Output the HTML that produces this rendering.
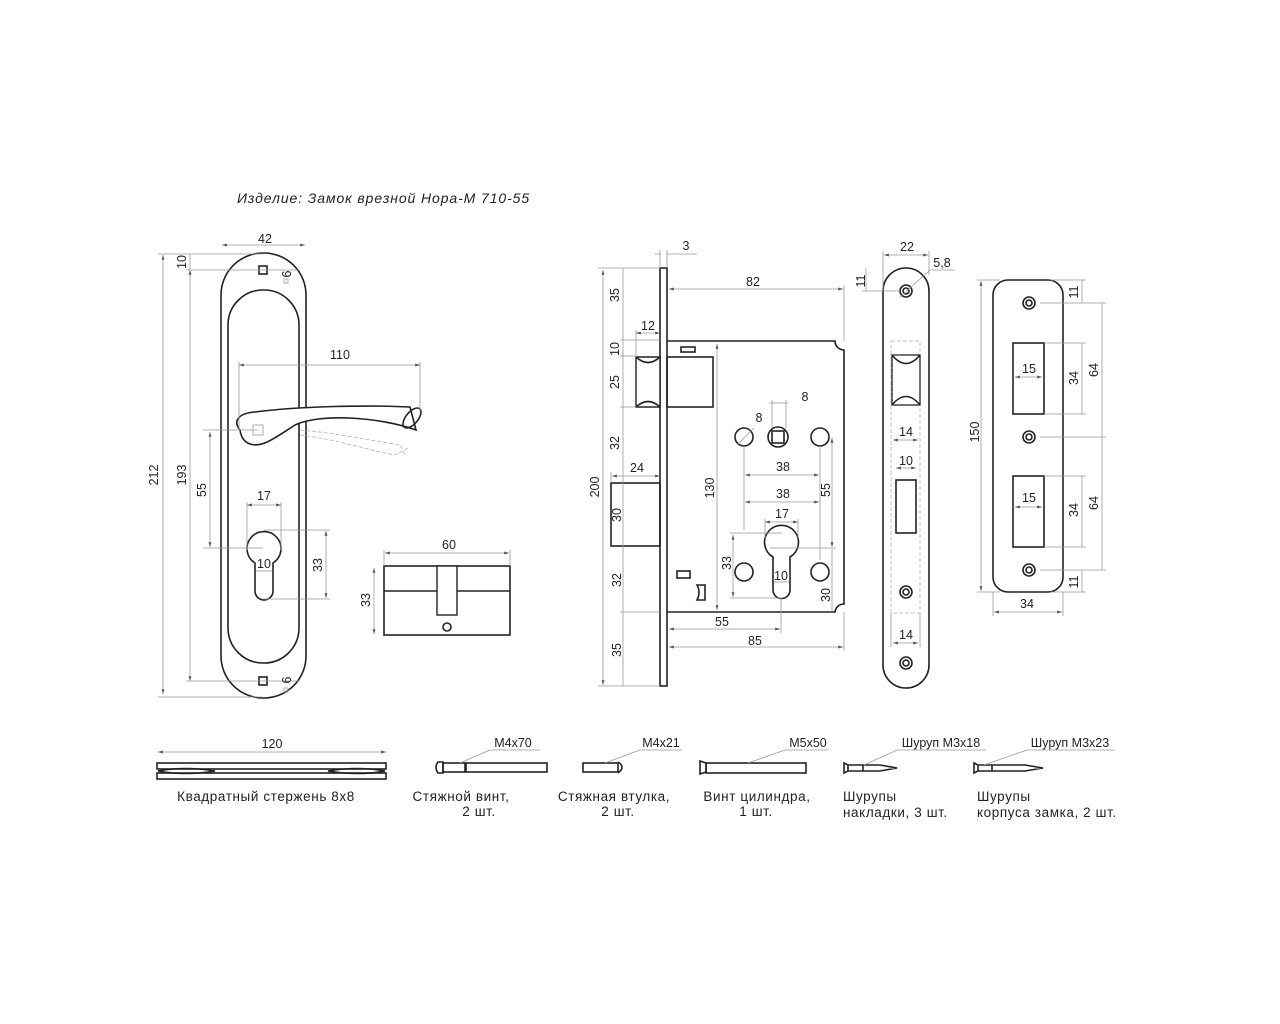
<!DOCTYPE html>
<html><head><meta charset="utf-8"><style>
html,body{margin:0;padding:0;background:#fff}
svg{display:block}
text{font-family:"Liberation Sans","DejaVu Sans",sans-serif;font-size:12.5px;fill:#222}
.t{font-size:13.5px;letter-spacing:0.6px}
.o{fill:none;stroke:#222;stroke-width:1.6}
.d{fill:none;stroke:#999;stroke-width:0.8}
.c{fill:none;stroke:#aaa;stroke-width:0.7;stroke-dasharray:4 2}
</style></head><body>
<svg width="1280" height="1024" viewBox="0 0 1280 1024" xmlns="http://www.w3.org/2000/svg">
<defs>
<marker id="a" viewBox="0 0 10 10" refX="10" refY="5" markerWidth="6" markerHeight="6" orient="auto-start-reverse"><path d="M0,2 L10,5 L0,8z" fill="#555"/></marker>
</defs>
<text x="237" y="203" class="t" font-style="italic" style="font-size:14px;letter-spacing:0.9px">Изделие: Замок врезной Нора-М 710-55</text>

<!-- HANDLE PLATE -->
<rect x="221" y="253" width="85" height="445" rx="42" class="o"/>
<rect x="228" y="290" width="71" height="373" rx="35" class="o"/>
<rect x="259" y="266" width="8" height="8" class="o" stroke-width="1.2"/>
<rect x="259" y="677" width="8" height="8" class="o" stroke-width="1.2"/>
<rect x="284" y="279" width="4" height="4" class="d"/>
<rect x="284" y="688" width="4" height="4" class="d"/>
<path d="M240,430 C232,420 240,413 255,412 C300,406 370,405 410,407 L416,430 C380,417 320,413 295,425 C275,438 262,448 250,444 C244,442 241,437 240,430 Z" fill="#fff" stroke="#222" stroke-width="1.6"/>
<ellipse cx="412" cy="418" rx="6" ry="12" transform="rotate(40 412 418)" class="o" stroke-width="1.4"/>
<path d="M300,430 C330,432 380,442 400,445 L405,455 M300,435 C340,440 375,452 395,455 L408,448" class="c"/>
<rect x="253" y="425" width="10" height="10" class="d"/>
<path d="M255,563 A17,17 0 1 1 273,563 L273,591 A9,9 0 0 1 255,591 Z" class="o"/>
<!-- handle dims -->
<line x1="222" y1="245" x2="305" y2="245" class="d" marker-start="url(#a)" marker-end="url(#a)"/>
<text x="265" y="243" text-anchor="middle">42</text>
<line x1="163" y1="255" x2="163" y2="694" class="d" marker-start="url(#a)" marker-end="url(#a)"/>
<line x1="158" y1="254" x2="262" y2="254" class="d"/><line x1="158" y1="697" x2="262" y2="697" class="d"/>
<text transform="translate(158,475) rotate(-90)" text-anchor="middle">212</text>
<line x1="190" y1="270" x2="190" y2="681" class="d" marker-start="url(#a)" marker-end="url(#a)"/>
<line x1="190" y1="254" x2="190" y2="270" class="d"/>
<line x1="186" y1="270" x2="300" y2="270" class="d"/><line x1="186" y1="681" x2="300" y2="681" class="d"/>
<text transform="translate(186,475) rotate(-90)" text-anchor="middle">193</text>
<text transform="translate(186,262) rotate(-90)" text-anchor="middle">10</text>
<line x1="210" y1="432" x2="210" y2="547" class="d" marker-start="url(#a)" marker-end="url(#a)"/>
<line x1="203" y1="430" x2="258" y2="430" class="d"/><line x1="203" y1="548" x2="263" y2="548" class="d"/>
<text transform="translate(206,490) rotate(-90)" text-anchor="middle">55</text>
<line x1="239" y1="365" x2="420" y2="365" class="d" marker-start="url(#a)" marker-end="url(#a)"/>
<line x1="239" y1="362" x2="239" y2="430" class="d"/><line x1="420" y1="362" x2="420" y2="412" class="d"/>
<text x="340" y="359" text-anchor="middle">110</text>
<line x1="247" y1="505" x2="281" y2="505" class="d" marker-start="url(#a)" marker-end="url(#a)"/>
<line x1="247" y1="502" x2="247" y2="550" class="d"/><line x1="281" y1="502" x2="281" y2="550" class="d"/>
<text x="264" y="500" text-anchor="middle">17</text>
<line x1="256" y1="571" x2="272" y2="571" class="d"/>
<text x="264" y="568" text-anchor="middle">10</text>
<line x1="326" y1="531" x2="326" y2="598" class="d" marker-start="url(#a)" marker-end="url(#a)"/>
<line x1="264" y1="530" x2="330" y2="530" class="d"/><line x1="264" y1="599" x2="330" y2="599" class="d"/>
<text transform="translate(322,565) rotate(-90)" text-anchor="middle">33</text>
<text transform="translate(291,274) rotate(-90)" text-anchor="middle" font-size="11">6</text>
<text transform="translate(291,680) rotate(-90)" text-anchor="middle" font-size="11">6</text>

<!-- CYLINDER -->
<rect x="384" y="566" width="126" height="69" class="o" stroke-width="1.4"/>
<line x1="384" y1="591" x2="510" y2="591" class="o" stroke-width="1.2"/>
<rect x="437" y="566" width="20" height="49" fill="#fff" stroke="#222" stroke-width="1.4"/>
<circle cx="447" cy="627" r="4" class="o" stroke-width="1.2"/>
<line x1="385" y1="553" x2="509" y2="553" class="d" marker-start="url(#a)" marker-end="url(#a)"/>
<line x1="384" y1="550" x2="384" y2="566" class="d"/><line x1="510" y1="550" x2="510" y2="566" class="d"/>
<text x="449" y="549" text-anchor="middle">60</text>
<line x1="374" y1="568" x2="374" y2="634" class="d" marker-start="url(#a)" marker-end="url(#a)"/>
<text transform="translate(370,600) rotate(-90)" text-anchor="middle">33</text>

<!-- LOCK BODY -->
<rect x="660" y="268" width="7" height="418" class="o" stroke-width="1.4"/>
<path d="M667,341 L835,341 A9,9 0 0 0 844,350 L844,604 A9,9 0 0 0 835,612 L667,612" class="o" stroke-width="1.4"/>
<path d="M636,357 L660,357 L660,407 L636,407 Z" fill="#fff" stroke="#222" stroke-width="1.4"/>
<path d="M636,357 Q648,368 660,357 M636,407 Q648,396 660,407" class="o" stroke-width="1.2"/>
<rect x="667" y="357" width="46" height="50" class="o" stroke-width="1.4"/>
<rect x="681" y="347" width="14" height="5" class="o" stroke-width="1.2"/>
<rect x="611" y="483" width="49" height="63" class="o" stroke-width="1.4"/>
<circle cx="744" cy="437" r="9" class="o" stroke-width="1.3"/>
<circle cx="778" cy="437" r="10" class="o" stroke-width="1.3"/>
<rect x="772" y="431" width="12" height="12" class="o" stroke-width="1.2"/>
<circle cx="820" cy="437" r="9" class="o" stroke-width="1.3"/>
<circle cx="744" cy="572" r="9" class="o" stroke-width="1.3"/>
<circle cx="820" cy="572" r="9" class="o" stroke-width="1.3"/>
<path d="M773,557 A17,17 0 1 1 790,557 L790,590 A8.5,8.5 0 0 1 773,590 Z" class="o" stroke-width="1.4"/>
<rect x="677" y="571" width="13" height="7" class="o" stroke-width="1.2"/>
<path d="M697,585 L705,585 L705,600 L697,600 Q701,592 697,585 Z" class="o" stroke-width="1.2"/>
<!-- lock dims -->
<line x1="655" y1="254" x2="660" y2="254" class="d"/><line x1="667" y1="254" x2="697" y2="254" class="d"/>
<line x1="660" y1="250" x2="660" y2="268" class="d"/><line x1="667" y1="250" x2="667" y2="268" class="d"/>
<text x="686" y="250" text-anchor="middle">3</text>
<line x1="669" y1="289" x2="843" y2="289" class="d" marker-start="url(#a)" marker-end="url(#a)"/>
<line x1="844" y1="285" x2="844" y2="341" class="d"/>
<text x="753" y="286" text-anchor="middle">82</text>
<line x1="603" y1="270" x2="603" y2="685" class="d" marker-start="url(#a)" marker-end="url(#a)"/>
<line x1="598" y1="268" x2="660" y2="268" class="d"/><line x1="598" y1="686" x2="660" y2="686" class="d"/>
<text transform="translate(599,487) rotate(-90)" text-anchor="middle">200</text>
<line x1="623" y1="268" x2="623" y2="686" class="d"/>
<g stroke="#999" stroke-width="0.8">
<line x1="620" y1="340" x2="660" y2="340"/><line x1="620" y1="356" x2="636" y2="356"/><line x1="620" y1="407" x2="636" y2="407"/>
<line x1="620" y1="612" x2="660" y2="612"/>
</g>
<text transform="translate(619,295) rotate(-90)" text-anchor="middle">35</text>
<text transform="translate(619,349) rotate(-90)" text-anchor="middle">10</text>
<text transform="translate(619,382) rotate(-90)" text-anchor="middle">25</text>
<text transform="translate(619,443) rotate(-90)" text-anchor="middle">32</text>
<text transform="translate(621,515) rotate(-90)" text-anchor="middle">30</text>
<text transform="translate(621,580) rotate(-90)" text-anchor="middle">32</text>
<text transform="translate(621,650) rotate(-90)" text-anchor="middle">35</text>
<line x1="636" y1="333" x2="660" y2="333" class="d" marker-start="url(#a)" marker-end="url(#a)"/>
<line x1="636" y1="330" x2="636" y2="357" class="d"/>
<text x="648" y="330" text-anchor="middle">12</text>
<line x1="612" y1="476" x2="660" y2="476" class="d" marker-start="url(#a)" marker-end="url(#a)"/>
<line x1="611" y1="472" x2="611" y2="483" class="d"/>
<text x="637" y="472" text-anchor="middle">24</text>
<line x1="717" y1="344" x2="717" y2="610" class="d" marker-start="url(#a)" marker-end="url(#a)"/>
<text transform="translate(714,488) rotate(-90)" text-anchor="middle">130</text>
<line x1="769" y1="403" x2="788" y2="403" class="d"/>
<line x1="772" y1="400" x2="772" y2="428" class="d"/><line x1="786" y1="400" x2="786" y2="428" class="d"/>
<text x="805" y="401" text-anchor="middle">8</text>
<line x1="738" y1="444" x2="754" y2="428" class="d"/>
<text x="759" y="422" text-anchor="middle">8</text>
<line x1="745" y1="475" x2="819" y2="475" class="d" marker-start="url(#a)" marker-end="url(#a)"/>
<line x1="744" y1="446" x2="744" y2="530" class="d"/><line x1="820" y1="446" x2="820" y2="560" class="d"/>
<text x="783" y="471" text-anchor="middle">38</text>
<line x1="745" y1="502" x2="819" y2="502" class="d" marker-start="url(#a)" marker-end="url(#a)"/>
<text x="783" y="498" text-anchor="middle">38</text>
<line x1="765" y1="522" x2="798" y2="522" class="d" marker-start="url(#a)" marker-end="url(#a)"/>
<line x1="765" y1="519" x2="765" y2="538" class="d"/><line x1="798" y1="519" x2="798" y2="538" class="d"/>
<text x="782" y="518" text-anchor="middle">17</text>
<line x1="832" y1="438" x2="832" y2="547" class="d" marker-start="url(#a)" marker-end="url(#a)"/>
<line x1="770" y1="548" x2="836" y2="548" class="d"/>
<text transform="translate(830,490) rotate(-90)" text-anchor="middle">55</text>
<line x1="832" y1="549" x2="832" y2="611" class="d"/>
<text transform="translate(830,595) rotate(-90)" text-anchor="middle">30</text>
<line x1="733" y1="535" x2="733" y2="597" class="d" marker-start="url(#a)" marker-end="url(#a)"/>
<line x1="730" y1="533" x2="782" y2="533" class="d"/><line x1="730" y1="598" x2="782" y2="598" class="d"/>
<text transform="translate(731,563) rotate(-90)" text-anchor="middle">33</text>
<line x1="774" y1="582" x2="789" y2="582" class="d"/>
<text x="781" y="580" text-anchor="middle">10</text>
<line x1="781" y1="598" x2="781" y2="633" class="d"/>
<line x1="669" y1="629" x2="780" y2="629" class="d" marker-start="url(#a)" marker-end="url(#a)"/>
<text x="722" y="626" text-anchor="middle">55</text>
<line x1="669" y1="647" x2="843" y2="647" class="d" marker-start="url(#a)" marker-end="url(#a)"/>
<line x1="844" y1="612" x2="844" y2="651" class="d"/>
<text x="755" y="645" text-anchor="middle">85</text>

<!-- STRIKER NARROW -->
<rect x="883" y="268" width="46" height="420" rx="23" class="o" stroke-width="1.4"/>
<g class="o" stroke-width="1.3">
<circle cx="906" cy="291" r="6"/><circle cx="906" cy="291" r="3"/>
<circle cx="906" cy="592" r="6"/><circle cx="906" cy="592" r="3"/>
<circle cx="906" cy="663" r="6"/><circle cx="906" cy="663" r="3"/>
</g>
<rect x="891" y="341" width="29" height="272" class="c"/>
<path d="M892,355 L920,355 L920,405 L892,405 Z" fill="#fff" stroke="#222" stroke-width="1.3"/>
<path d="M892,355 Q906,372 920,355 M892,405 Q906,388 920,405" class="o" stroke-width="1.2"/>
<rect x="896" y="480" width="20" height="53" class="o" stroke-width="1.4"/>
<line x1="884" y1="255" x2="928" y2="255" class="d" marker-start="url(#a)" marker-end="url(#a)"/>
<line x1="883" y1="251" x2="883" y2="290" class="d"/><line x1="929" y1="251" x2="929" y2="275" class="d"/>
<text x="907" y="251" text-anchor="middle">22</text>
<line x1="900" y1="297" x2="930" y2="270" class="d"/><line x1="930" y1="270" x2="955" y2="270" class="d"/>
<text x="942" y="267" text-anchor="middle">5,8</text>
<line x1="866" y1="268" x2="866" y2="291" class="d"/>
<line x1="862" y1="291" x2="900" y2="291" class="d"/>
<text transform="translate(865,281) rotate(-90)" text-anchor="middle">11</text>
<line x1="893" y1="440" x2="918" y2="440" class="d" marker-start="url(#a)" marker-end="url(#a)"/>
<text x="906" y="436" text-anchor="middle">14</text>
<line x1="896" y1="468" x2="916" y2="468" class="d" marker-start="url(#a)" marker-end="url(#a)"/>
<text x="906" y="465" text-anchor="middle">10</text>
<line x1="893" y1="643" x2="918" y2="643" class="d" marker-start="url(#a)" marker-end="url(#a)"/>
<line x1="891" y1="613" x2="891" y2="647" class="d"/><line x1="920" y1="613" x2="920" y2="647" class="d"/>
<text x="906" y="639" text-anchor="middle">14</text>

<!-- STRIKER WIDE -->
<rect x="993" y="280" width="70" height="312" rx="15" class="o" stroke-width="1.4"/>
<g class="o" stroke-width="1.3">
<circle cx="1029" cy="303" r="6"/><circle cx="1029" cy="303" r="3"/>
<circle cx="1029" cy="437" r="6"/><circle cx="1029" cy="437" r="3"/>
<circle cx="1029" cy="570" r="6"/><circle cx="1029" cy="570" r="3"/>
</g>
<rect x="1013" y="343" width="31" height="71" class="o" stroke-width="1.4"/>
<rect x="1013" y="476" width="31" height="71" class="o" stroke-width="1.4"/>
<line x1="1015" y1="377" x2="1042" y2="377" class="d" marker-start="url(#a)" marker-end="url(#a)"/>
<text x="1029" y="373" text-anchor="middle">15</text>
<line x1="1015" y1="507" x2="1042" y2="507" class="d" marker-start="url(#a)" marker-end="url(#a)"/>
<text x="1029" y="502" text-anchor="middle">15</text>
<line x1="981" y1="281" x2="981" y2="591" class="d" marker-start="url(#a)" marker-end="url(#a)"/>
<line x1="977" y1="280" x2="1000" y2="280" class="d"/><line x1="977" y1="592" x2="1000" y2="592" class="d"/>
<text transform="translate(979,432) rotate(-90)" text-anchor="middle">150</text>
<line x1="994" y1="612" x2="1062" y2="612" class="d" marker-start="url(#a)" marker-end="url(#a)"/>
<line x1="993" y1="592" x2="993" y2="616" class="d"/><line x1="1063" y1="592" x2="1063" y2="616" class="d"/>
<text x="1027" y="608" text-anchor="middle">34</text>
<g stroke="#999" stroke-width="0.8">
<line x1="1044" y1="343" x2="1086" y2="343"/><line x1="1044" y1="414" x2="1086" y2="414"/>
<line x1="1044" y1="476" x2="1086" y2="476"/><line x1="1044" y1="547" x2="1086" y2="547"/>
<line x1="1040" y1="303" x2="1106" y2="303"/><line x1="1040" y1="437" x2="1106" y2="437"/><line x1="1040" y1="570" x2="1106" y2="570"/>
<line x1="1050" y1="280" x2="1086" y2="280"/><line x1="1050" y1="592" x2="1086" y2="592"/>
<line x1="1082" y1="343" x2="1082" y2="414"/><line x1="1082" y1="476" x2="1082" y2="547"/>
<line x1="1102" y1="303" x2="1102" y2="570"/>
<line x1="1082" y1="280" x2="1082" y2="303"/><line x1="1082" y1="570" x2="1082" y2="592"/>
</g>
<text transform="translate(1078,378) rotate(-90)" text-anchor="middle">34</text>
<text transform="translate(1078,510) rotate(-90)" text-anchor="middle">34</text>
<text transform="translate(1098,370) rotate(-90)" text-anchor="middle">64</text>
<text transform="translate(1098,503) rotate(-90)" text-anchor="middle">64</text>
<text transform="translate(1078,292) rotate(-90)" text-anchor="middle">11</text>
<text transform="translate(1078,582) rotate(-90)" text-anchor="middle">11</text>

<!-- BOTTOM PARTS -->
<line x1="158" y1="752" x2="386" y2="752" class="d" marker-start="url(#a)" marker-end="url(#a)"/>
<text x="272" y="748" text-anchor="middle">120</text>
<rect x="157" y="763" width="229" height="6" class="o" stroke-width="1.2"/>
<rect x="157" y="773" width="229" height="6" class="o" stroke-width="1.2"/>
<path d="M158,771 Q185,766 215,771 Q185,776 158,771 Z M385,771 Q358,766 328,771 Q358,776 385,771 Z" class="o" stroke-width="1.1"/>
<text x="266" y="801" text-anchor="middle" class="t">Квадратный стержень 8х8</text>

<path d="M438,762 Q434,767 438,773 L443,773 L443,762 Z" class="o" stroke-width="1.2"/>
<rect x="443" y="763" width="22" height="9" class="o" stroke-width="1.2"/>
<rect x="466" y="763" width="81" height="9" class="o" stroke-width="1.2"/>
<line x1="460" y1="763" x2="490" y2="750" class="d"/><line x1="490" y1="750" x2="540" y2="750" class="d"/>
<text x="513" y="747" text-anchor="middle">M4x70</text>
<text x="461" y="801" text-anchor="middle" class="t">Стяжной винт,</text>
<text x="479" y="816" text-anchor="middle" class="t">2 шт.</text>

<rect x="583" y="763" width="35" height="9" class="o" stroke-width="1.2"/>
<path d="M618,762 Q626,767 618,773" class="o" stroke-width="1.2"/>
<line x1="605" y1="763" x2="640" y2="750" class="d"/><line x1="640" y1="750" x2="682" y2="750" class="d"/>
<text x="661" y="747" text-anchor="middle">M4x21</text>
<text x="614" y="801" text-anchor="middle" class="t">Стяжная втулка,</text>
<text x="618" y="816" text-anchor="middle" class="t">2 шт.</text>

<path d="M700,761 L706,763 L706,772 L700,774 Z" class="o" stroke-width="1.2"/>
<rect x="706" y="763" width="100" height="10" class="o" stroke-width="1.2"/>
<line x1="748" y1="763" x2="785" y2="750" class="d"/><line x1="785" y1="750" x2="828" y2="750" class="d"/>
<text x="808" y="747" text-anchor="middle">M5x50</text>
<text x="757" y="801" text-anchor="middle" class="t">Винт цилиндра,</text>
<text x="756" y="816" text-anchor="middle" class="t">1 шт.</text>

<path d="M844,763 L848,765 L848,771 L844,773 Z M848,765 L863,765 L863,771 L848,771 Z M863,765 L880,765 L897,768 L880,771 L863,771" class="o" stroke-width="1.2"/>
<line x1="864" y1="765" x2="897" y2="750" class="d"/><line x1="897" y1="750" x2="986" y2="750" class="d"/>
<text x="941" y="747" text-anchor="middle">Шуруп М3х18</text>
<text x="843" y="801" class="t">Шурупы</text>
<text x="843" y="817" class="t">накладки, 3 шт.</text>

<path d="M974,763 L978,765 L978,771 L974,773 Z M978,765 L992,765 L992,771 L978,771 Z M992,765 L1025,765 L1043,768 L1025,771 L992,771" class="o" stroke-width="1.2"/>
<line x1="984" y1="765" x2="1027" y2="750" class="d"/><line x1="1027" y1="750" x2="1115" y2="750" class="d"/>
<text x="1070" y="747" text-anchor="middle">Шуруп М3х23</text>
<text x="977" y="801" class="t">Шурупы</text>
<text x="977" y="817" class="t">корпуса замка, 2 шт.</text>
</svg>
</body></html>
